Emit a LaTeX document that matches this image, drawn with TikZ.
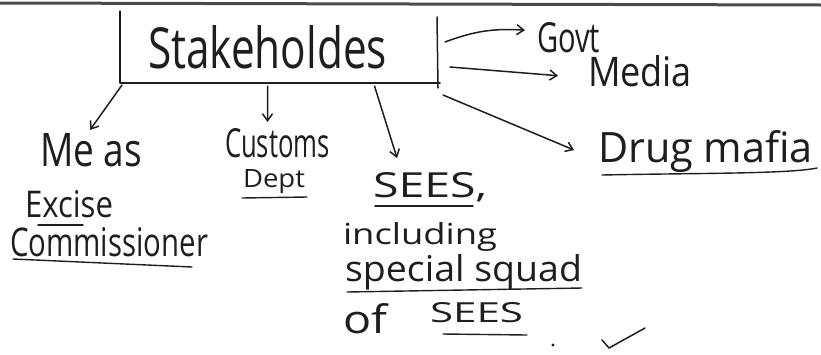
\documentclass[tikz,border=0pt]{standalone}
\usepackage{fontspec}
\setmainfont{Open Sans}
\usetikzlibrary{arrows.meta,calc}
\definecolor{inkc}{HTML}{1E1E1E}
\definecolor{edgec}{HTML}{4A4A4A}
\newcommand{\hwtext}[3]{\resizebox{#1pt}{#2pt}{#3}}
\begin{document}
\begin{tikzpicture}[x=1pt,y=-1pt,
  ink/.style={draw=inkc,line width=1.5pt,line cap=round,line join=round},
  conn/.style={ink,-{Straight Barb[length=7pt,width=10pt]}},
  lbl/.style={inner sep=0pt,outer sep=0pt,anchor=base west,text=inkc},
  ul/.style={ink,line width=1.4pt}
]
\useasboundingbox (0,0) rectangle (821,354);
% scan edge at the top
\draw[draw=edgec,line width=3pt] (0,3) -- (821,5);

% box and title
\node[inner sep=0pt,outer sep=0pt,minimum width=317pt,minimum height=72pt] (box) at (278.5,47) {};
\draw[ink] (box.north west) -- (box.south west) -- ([xshift=3pt]box.south east);
\draw[ink] ([yshift=-6pt]box.north east) -- ([xshift=1pt,yshift=-5pt]box.south east);
\node[lbl] (st) at (148,68) {\hwtext{239}{43}{Stakeholdes}};

% right side
\node[lbl] (govt) at (537,52) {\hwtext{63}{30}{Govt}};
\node[lbl] (media) at (588,86) {\hwtext{104}{31}{Media}};
\node[lbl] (drug) at (598,162) {\hwtext{215}{32}{Drug mafia}};

% bottom
\node[lbl] (me) at (40,166) {\hwtext{102}{33}{Me as}};
\node[lbl] (exc) at (25,217) {\hwtext{88}{27}{Excise}};
\node[lbl] (comm) at (10,256) {\hwtext{198}{29}{Commissioner}};
\node[lbl] (cust) at (225,157) {\hwtext{105}{29}{Customs}};
\node[lbl] (dept) at (243,187) {\hwtext{62}{18}{Dept}};
\node[lbl] (sees) at (373,197) {\hwtext{114}{25}{SEES,}};
\node[lbl] (incl) at (343,244) {\hwtext{154}{22}{including}};
\node[lbl] (spec) at (345,281) {\hwtext{237}{27}{special squad}};
\node[lbl] (of) at (343,333) {\hwtext{44}{30}{of}};
\node[lbl] (sees2) at (430,322) {\hwtext{93}{20}{SEES}};

% connectors
\draw[conn] ($(box.east)+(8,-5)$) to[bend left=12] ($(govt.west)+(-12,-7)$);
\draw[conn] ($(box.east)+(13,20)$) -- ($(media.west)+(-30,5)$);
\draw[conn] ($(box.south east)+(6,12)$) -- ($(drug.west)+(-24,-1)$);
\draw[conn] ($(box.south west)+(2,2)$) -- ($(me.north)+(-1,-3)$);
\draw[conn] ($(box.south)+(-11,3)$) -- ($(cust.north)+(-10,-6)$);
\draw[conn] ($(box.south)+(96,3)$) -- ($(sees.north)+(-33,-14)$);

% underlines
\draw[ul] ($(exc.base west)+(13,8)$) -- ++(45,0);
\draw[ul] ($(comm.base west)+(3,3)$) -- ($(comm.base west)+(182,11)$);
\draw[ul] ($(dept.base west)+(-1,11)$) -- ++(65,-1);
\draw[ul] ($(sees.base west)+(2,9)$) -- ++(98,0);
\draw[ul] ($(spec.base west)+(2,11)$) -- ++(235,-4);
\draw[ul] ($(sees2.base west)+(13,12)$) -- ++(84,1);
\draw[ul] ($(drug.base west)+(4,13)$) .. controls ($(drug.base west)+(100,11)$) and ($(drug.base west)+(190,12)$) .. ($(drug.base west)+(219,6)$);

% dot and tick
\fill[inkc] (553,345) circle (1.6pt);
\draw[ink] (602,340) -- (609,348) -- (645,328);
\end{tikzpicture}
\end{document}
